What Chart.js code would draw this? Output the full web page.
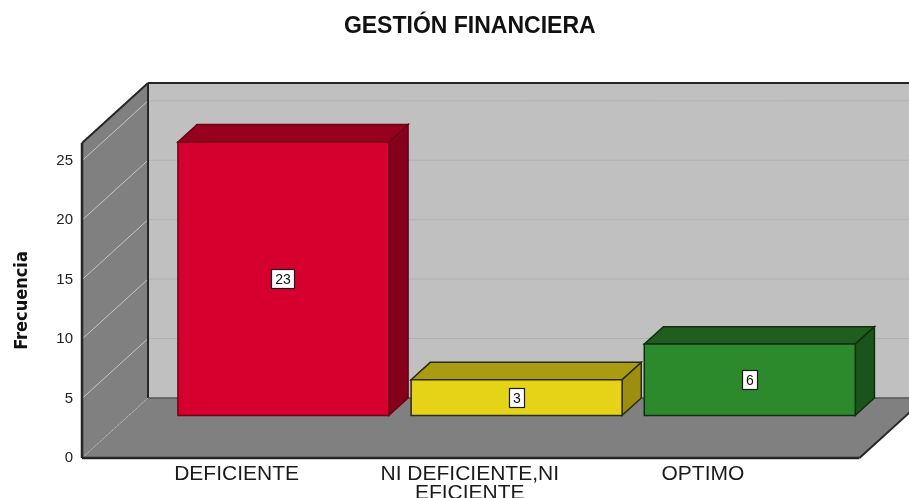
<!DOCTYPE html>
<html>
<head>
<meta charset="utf-8">
<script src="https://cdn.jsdelivr.net/npm/chart.js@4.4.1/dist/chart.umd.min.js"></script>
<style>
  html, body { margin: 0; padding: 0; background: #ffffff; }
  canvas { display: block; }
</style>
</head>
<body>
<canvas id="grafico" width="909" height="498"></canvas>
<script>
const categorias = ["DEFICIENTE", ["NI DEFICIENTE,NI", "EFICIENTE"], "OPTIMO"];
const frecuencias = [23, 3, 6];
const ejeMax = 26.5;
const pasoTicks = 5;

// colores de cada barra: frente, tapa, lado, borde
const coloresFrente = ["#d6002f", "#e5d318", "#2c8a2c"];
const coloresTapa   = ["#98001f", "#a99c12", "#1f5e1f"];
const coloresLado   = ["#85001b", "#9b8e10", "#1a541a"];
const coloresBorde  = ["#6e0016", "#2b2a0c", "#0f300f"];

// caja 3D
const PROF_X = 66, PROF_Y = -60;
const BARRA_INI = 0.71;
const MARGEN_IZQ = 38, MARGEN_DER = 40;

const fuente = "'Liberation Sans', Arial, sans-serif";

function poligono(ctx, pts, relleno, borde, grosor) {
    ctx.beginPath();
    ctx.moveTo(pts[0][0], pts[0][1]);
    for (let i = 1; i < pts.length; i++) ctx.lineTo(pts[i][0], pts[i][1]);
    ctx.closePath();
    if (relleno) { ctx.fillStyle = relleno; ctx.fill(); }
    if (borde) { ctx.strokeStyle = borde; ctx.lineWidth = grosor || 1; ctx.stroke(); }
}

function linea(ctx, x1, y1, x2, y2, color, grosor) {
    ctx.beginPath();
    ctx.moveTo(x1, y1);
    ctx.lineTo(x2, y2);
    ctx.strokeStyle = color;
    ctx.lineWidth = grosor;
    ctx.stroke();
}

const caja3D = {
    id: "caja3D",

    beforeDatasetsDraw(chart) {
        const { ctx, chartArea: a, scales: { y } } = chart;
        const L = a.left - MARGEN_IZQ, R = a.right + MARGEN_DER;
        const T = a.top, B = a.bottom;

        ctx.save();

        // pared del fondo, lado y piso
        poligono(ctx, [[L + PROF_X, T + PROF_Y], [R + PROF_X, T + PROF_Y], [R + PROF_X, B + PROF_Y], [L + PROF_X, B + PROF_Y]], "#c0c0c0");
        poligono(ctx, [[L, T], [L + PROF_X, T + PROF_Y], [L + PROF_X, B + PROF_Y], [L, B]], "#808080");
        poligono(ctx, [[L, B], [L + PROF_X, B + PROF_Y], [R + PROF_X, B + PROF_Y], [R, B]], "#808080");

        // lineas de la grilla
        y.ticks.forEach(t => {
            const py = y.getPixelForValue(t.value);
            if (t.value > 0) {
                linea(ctx, L + PROF_X, py + PROF_Y, R + PROF_X, py + PROF_Y, "#b1b1b1", 1);
                linea(ctx, L, py, L + PROF_X, py + PROF_Y, "#c6c6c6", 1);
            } else {
                ctx.setLineDash([2, 2]);
                linea(ctx, L, py, L + PROF_X, py + PROF_Y, "#b8b8b8", 1);
                ctx.setLineDash([]);
            }
        });

        // bordes
        const oscuro = "#262626";
        linea(ctx, L + PROF_X, T + PROF_Y, R + PROF_X, T + PROF_Y, oscuro, 2);
        linea(ctx, L + PROF_X, T + PROF_Y, L + PROF_X, B + PROF_Y, oscuro, 2);
        linea(ctx, L + PROF_X, B + PROF_Y, R + PROF_X, B + PROF_Y, "#555555", 1.5);
        linea(ctx, L, T, L + PROF_X, T + PROF_Y, oscuro, 2);
        linea(ctx, L, T, L, B, oscuro, 2.5);
        linea(ctx, L, B, R, B, oscuro, 2.5);
        linea(ctx, R, B, R + PROF_X, B + PROF_Y, oscuro, 2);

        ctx.restore();
    },

    afterDatasetsDraw(chart) {
        const { ctx } = chart;
        const meta = chart.getDatasetMeta(0);
        const fx = PROF_X * BARRA_INI, fy = PROF_Y * BARRA_INI;
        const bx = PROF_X * (1 - BARRA_INI), by = PROF_Y * (1 - BARRA_INI);

        ctx.save();
        meta.data.forEach((barra, i) => {
            const p = barra.getProps(["x", "y", "base", "width"], true);
            const x0 = p.x - p.width / 2 + fx, x1 = p.x + p.width / 2 + fx;
            const yT = p.y + fy, yB = p.base + fy;
            const borde = coloresBorde[i];

            poligono(ctx, [[x0, yT], [x0 + bx, yT + by], [x1 + bx, yT + by], [x1, yT]], coloresTapa[i], borde, 1.5);
            poligono(ctx, [[x1, yT], [x1 + bx, yT + by], [x1 + bx, yB + by], [x1, yB]], coloresLado[i], borde, 1.5);
            poligono(ctx, [[x0, yT], [x1, yT], [x1, yB], [x0, yB]], coloresFrente[i], borde, 1.5);

            // etiqueta con el valor
            const texto = String(frecuencias[i]);
            ctx.font = "14px " + fuente;
            const ancho = Math.round(ctx.measureText(texto).width + 8);
            const cx = Math.round((x0 + x1) / 2), cy = Math.round((yT + yB) / 2);
            ctx.fillStyle = "#ffffff";
            ctx.fillRect(cx - ancho / 2, cy - 10, ancho, 20);
            ctx.strokeStyle = "#1a1a1a";
            ctx.lineWidth = 1.2;
            ctx.strokeRect(cx - ancho / 2 + 0.5, cy - 10 + 0.5, ancho - 1, 19);
            ctx.fillStyle = "#111111";
            ctx.textAlign = "center";
            ctx.textBaseline = "middle";
            ctx.fillText(texto, cx, cy + 1);
        });
        ctx.restore();
    }
};

new Chart(document.getElementById("grafico"), {
    type: "bar",
    data: {
        labels: categorias,
        datasets: [{
            label: "Frecuencia",
            data: frecuencias,
            backgroundColor: "rgba(0,0,0,0)",
            borderWidth: 0,
            barPercentage: 0.905,
            categoryPercentage: 1
        }]
    },
    options: {
        responsive: false,
        animation: false,
        layout: { padding: { left: 0, right: 89.5, top: 0, bottom: 0 } },
        plugins: {
            legend: { display: false },
            tooltip: { enabled: false },
            title: {
                display: true,
                fullSize: false,
                text: "GESTIÓN FINANCIERA",
                color: "#111111",
                font: { family: fuente, size: 23, weight: "bold", lineHeight: 1.2 },
                padding: { top: 13, bottom: 102.4 }
            }
        },
        scales: {
            x: {
                grid: { display: false, drawTicks: false },
                border: { display: false },
                ticks: {
                    color: "#1a1a1a",
                    padding: 7,
                    maxRotation: 0,
                    autoSkip: false,
                    font: { family: fuente, size: 21, lineHeight: 0.88 }
                },
                afterFit(escala) { escala.height = 40; }
            },
            y: {
                min: 0,
                max: ejeMax,
                grid: { display: false, drawTicks: false },
                border: { display: false },
                ticks: {
                    stepSize: pasoTicks,
                    includeBounds: false,
                    color: "#222222",
                    padding: 47,
                    font: { family: fuente, size: 15 }
                },
                title: {
                    display: true,
                    text: "Frecuencia",
                    color: "#111111",
                    padding: { top: 12, bottom: 0 },
                    font: { family: "'DejaVu Sans Condensed', 'Liberation Sans', sans-serif", size: 18, weight: "bold", lineHeight: 1.2 }
                },
                afterFit(escala) {
                    escala.width = 120;
                    escala.paddingTop = 8;
                    escala.paddingBottom = 8;
                }
            }
        }
    },
    plugins: [caja3D]
});
</script>
</body>
</html>
